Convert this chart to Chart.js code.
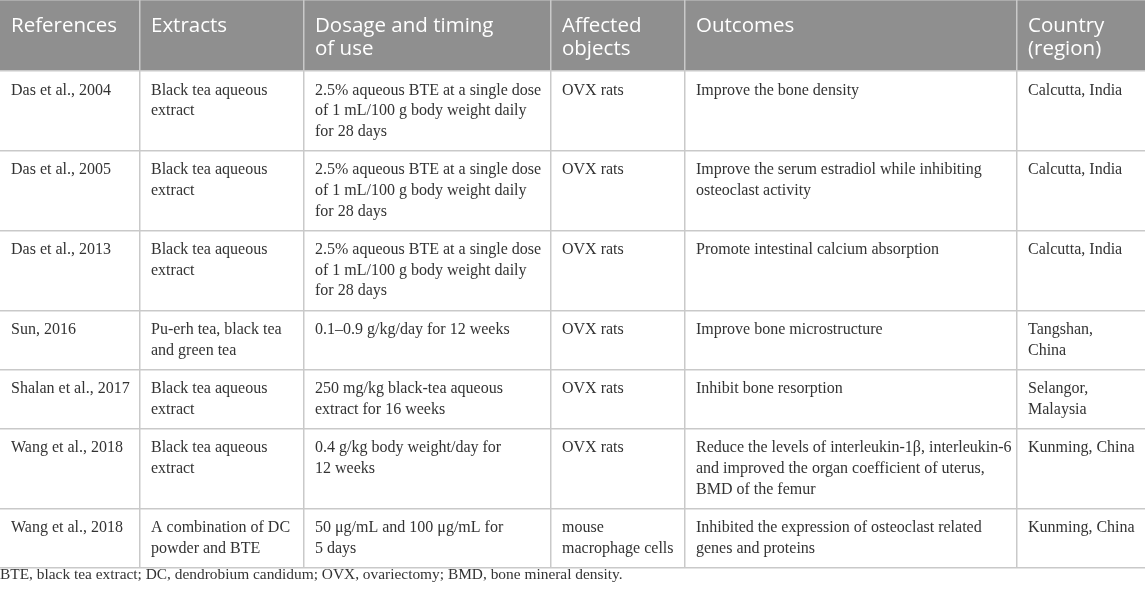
<!DOCTYPE html>
<html>
<head>
<meta charset="utf-8">
<script src="https://cdn.jsdelivr.net/npm/chart.js@4.4.1/dist/chart.umd.min.js"></script>
<style>
  html, body { margin: 0; padding: 0; background: #ffffff; }
  #wrap { width: 1145px; height: 592px; position: relative; }
</style>
</head>
<body>
<div id="wrap"><canvas id="c"></canvas></div>
<script>
// ---------- DATA ----------
const headers = ["References", "Extracts", "Dosage and timing\nof use", "Affected\nobjects", "Outcomes", "Country\n(region)"];
const references = ["Das et al., 2004", "Das et al., 2005", "Das et al., 2013", "Sun, 2016", "Shalan et al., 2017", "Wang et al., 2018", "Wang et al., 2018"];
const extracts = ["Black tea aqueous\nextract", "Black tea aqueous\nextract", "Black tea aqueous\nextract", "Pu-erh tea, black tea\nand green tea", "Black tea aqueous\nextract", "Black tea aqueous\nextract", "A combination of DC\npowder and BTE"];
const dosages = [
  "2.5% aqueous BTE at a single dose\nof 1 mL/100 g body weight daily\nfor 28 days",
  "2.5% aqueous BTE at a single dose\nof 1 mL/100 g body weight daily\nfor 28 days",
  "2.5% aqueous BTE at a single dose\nof 1 mL/100 g body weight daily\nfor 28 days",
  "0.1\u20130.9 g/kg/day for 12 weeks",
  "250 mg/kg black-tea aqueous\nextract for 16 weeks",
  "0.4 g/kg body weight/day for\n12 weeks",
  "50 \u03bcg/mL and 100 \u03bcg/mL for\n5 days"
];
const affected = ["OVX rats", "OVX rats", "OVX rats", "OVX rats", "OVX rats", "OVX rats", "mouse\nmacrophage cells"];
const outcomes = [
  "Improve the bone density",
  "Improve the serum estradiol while inhibiting\nosteoclast activity",
  "Promote intestinal calcium absorption",
  "Improve bone microstructure",
  "Inhibit bone resorption",
  "Reduce the levels of interleukin-1\u03b2, interleukin-6\nand improved the organ coefficient of uterus,\nBMD of the femur",
  "Inhibited the expression of osteoclast related\ngenes and proteins"
];
const countries = ["Calcutta, India", "Calcutta, India", "Calcutta, India", "Tangshan,\nChina", "Selangor,\nMalaysia", "Kunming, China", "Kunming, China"];
const footnote = "BTE, black tea extract; DC, dendrobium candidum; OVX, ovariectomy; BMD, bone mineral density.";

// ---------- LAYOUT ----------
const layout = {
  colWidths: [140, 164, 247, 134, 332, 128],
  headerH: 71,
  lineH: 20.6,
  cellPad: 18.0,
  padX: 11,
  headLineH: 23,
  headBase: 32,
  bodyBase: 23.5,
  footBase: 10.9,
  headerBg: "#8f8f8f",
  gridColor: "#c9c9c9",
  textColor: "#333333",
  headFont: '20.5px "Open Sans"',
  bodyFont: '16px "Liberation Serif"',
  footFont: '15.4px "Liberation Serif"'
};

const columns = [references, extracts, dosages, affected, outcomes, countries];
const nRows = references.length;

const colEdges = [0];
layout.colWidths.forEach(w => colEdges.push(colEdges[colEdges.length - 1] + w));
const xMax = colEdges[colEdges.length - 1];

const rowEdges = [0, layout.headerH];
for (let r = 0; r < nRows; r++) {
  let lines = 1;
  columns.forEach(col => { lines = Math.max(lines, col[r].split("\n").length); });
  rowEdges.push(rowEdges[rowEdges.length - 1] + lines * layout.lineH + layout.cellPad);
}
const yMax = rowEdges[rowEdges.length - 1];

const tablePlugin = {
  id: "tablePlugin",
  beforeDraw(chart) {
    const ctx = chart.ctx;
    const xs = chart.scales.x, ys = chart.scales.y;
    ctx.save();
    ctx.fillStyle = "#ffffff";
    ctx.fillRect(0, 0, chart.width, chart.height);
    const x0 = xs.getPixelForValue(0), x1 = xs.getPixelForValue(xMax);
    const y0 = ys.getPixelForValue(rowEdges[0]), y1 = ys.getPixelForValue(rowEdges[1]);
    ctx.fillStyle = layout.headerBg;
    ctx.fillRect(x0, y0, x1 - x0, y1 - y0);
    ctx.restore();
  },
  afterDraw(chart) {
    const ctx = chart.ctx;
    const xs = chart.scales.x, ys = chart.scales.y;
    ctx.save();
    ctx.textAlign = "left";
    ctx.textBaseline = "alphabetic";
    // header
    ctx.font = layout.headFont;
    ctx.fillStyle = "#ffffff";
    headers.forEach((h, c) => {
      const x = xs.getPixelForValue(colEdges[c]) + layout.padX;
      h.split("\n").forEach((ln, i) => {
        ctx.fillText(ln, x, ys.getPixelForValue(rowEdges[0]) + layout.headBase + i * layout.headLineH);
      });
    });
    // body
    ctx.font = layout.bodyFont;
    ctx.fillStyle = layout.textColor;
    for (let r = 0; r < nRows; r++) {
      const top = ys.getPixelForValue(rowEdges[r + 1]);
      columns.forEach((col, c) => {
        const x = xs.getPixelForValue(colEdges[c]) + layout.padX;
        col[r].split("\n").forEach((ln, i) => {
          ctx.fillText(ln, x, top + layout.bodyBase + i * layout.lineH);
        });
      });
    }
    // footnote
    ctx.font = layout.footFont;
    ctx.fillStyle = layout.textColor;
    ctx.fillText(footnote, xs.getPixelForValue(0), ys.getPixelForValue(yMax) + layout.footBase);
    ctx.restore();
  }
};

function build() {
  new Chart(document.getElementById("c"), {
    type: "scatter",
    data: { datasets: [{ data: [], pointRadius: 0 }] },
    options: {
      responsive: true,
      maintainAspectRatio: false,
      animation: false,
      events: [],
      layout: { autoPadding: false, padding: { left: 0, right: 0, top: 0, bottom: 592 - yMax } },
      plugins: { legend: { display: false }, tooltip: { enabled: false }, title: { display: false } },
      scales: {
        x: {
          type: "linear", min: 0, max: xMax,
          afterBuildTicks: axis => { axis.ticks = colEdges.map(v => ({ value: v })); },
          ticks: { display: false },
          border: { display: false },
          grid: {
            drawTicks: false,
            lineWidth: 1.5,
            color: c => (c.tick && (c.tick.value === 0 || c.tick.value === xMax)) ? "rgba(0,0,0,0)" : layout.gridColor
          }
        },
        y: {
          type: "linear", min: 0, max: yMax, reverse: true,
          afterBuildTicks: axis => { axis.ticks = rowEdges.map(v => ({ value: v })); },
          ticks: { display: false },
          border: { display: false },
          grid: { drawTicks: false, lineWidth: 1.5, color: layout.gridColor }
        }
      }
    },
    plugins: [tablePlugin]
  });
}

Promise.all([
  document.fonts.load(layout.headFont, "References"),
  document.fonts.load(layout.bodyFont, "Das"),
  document.fonts.load(layout.footFont, "BTE")
]).then(build, build);
</script>
</body>
</html>
